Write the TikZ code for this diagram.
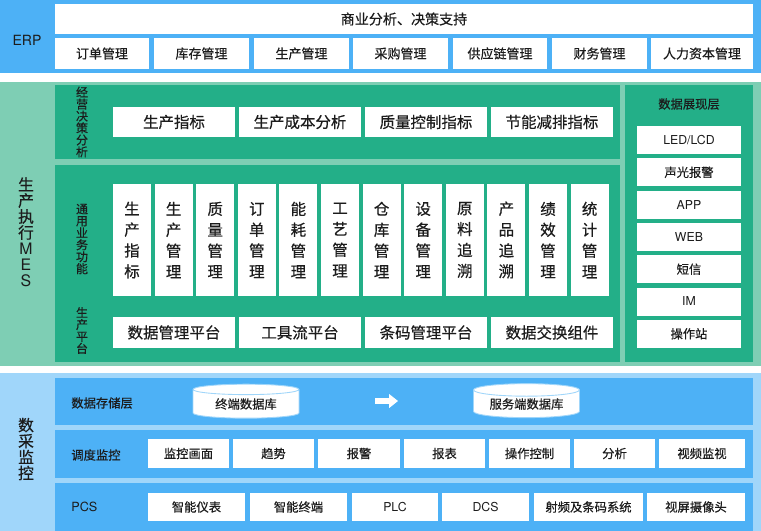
\documentclass[tikz,border=0pt]{standalone}
\usepackage{fontspec}
\setmainfont{Noto Sans CJK SC}[FakeBold=0.5]
\newfontfamily\heros{TeX Gyre Heros}
\usetikzlibrary{shapes.geometric, arrows.meta, positioning}
\definecolor{erpblue}{RGB}{77,177,246}
\definecolor{mesband}{RGB}{126,206,180}
\definecolor{mesgreen}{RGB}{35,175,136}
\definecolor{dcsband}{RGB}{160,214,250}
\definecolor{inktext}{RGB}{28,28,28}
\newcommand\pxu{0.02cm}

\tikzset{
  cell/.style={fill=white, inner sep=0pt, outer sep=0pt, text=inktext},
  erpcell/.style={cell, minimum height={31*\pxu}, font=\fontsize{7.4pt}{8pt}\selectfont},
  kpicell/.style={cell, minimum width={122*\pxu}, minimum height={30*\pxu}, font=\fontsize{8.8pt}{9pt}\selectfont},
  funccell/.style={cell, minimum width={38*\pxu}, minimum height={112*\pxu}, align=center, font=\fontsize{8.8pt}{11.9pt}\selectfont},
  showcell/.style={cell, minimum width={104*\pxu}, minimum height={28*\pxu}, font=\fontsize{7pt}{8pt}\selectfont},
  dcscell/.style={cell, font=\fontsize{7pt}{8pt}\selectfont},
  sidelabel/.style={text=inktext, inner sep=0pt, align=center, font=\fontsize{9pt}{9.1pt}\selectfont},
  vlabel/.style={text=inktext, inner sep=0pt, align=center, font=\fontsize{6.8pt}{6.8pt}\selectfont},
  rowlabel/.style={text=inktext, inner sep=0pt, anchor=west, font=\fontsize{7pt}{8pt}\selectfont},
  dbnode/.style={cylinder, shape border rotate=90, aspect=0.17, fill=white, draw=dcsband, line width=0.5pt,
    minimum width={106*\pxu}, minimum height={34*\pxu}, inner sep=0pt, text=inktext, font=\fontsize{7pt}{8pt}\selectfont}
}

\begin{document}
\begin{tikzpicture}[x=0.02cm, y=-0.02cm]
  \useasboundingbox (0,0) rectangle (761,531);
  \fill[white] (0,0) rectangle (761,531);

  % ERP layer
  \fill[erpblue] (0,0) rectangle (761,73);
  \node[sidelabel, font=\heros\fontsize{8pt}{9pt}\selectfont] (erp) at (27,40) {ERP};
  \node[cell, minimum width={698*\pxu}, minimum height={30*\pxu}, font=\fontsize{8pt}{9pt}\selectfont] (bi) at (404,19) {商业分析、决策支持};
  \foreach \cx/\w/\t [count=\i] in {102/94/订单管理, 201.5/95/库存管理, 301.5/95/生产管理, 400.5/95/采购管理,
      500/94/供应链管理, 599.5/95/财务管理, 702/102/人力资本管理}
    \node[erpcell, minimum width={\w*\pxu}] (erp\i) at (\cx,53.5) {\t};

  % MES layer
  \fill[mesband] (0,82) rectangle (761,366);
  \fill[mesgreen] (55,85) rectangle (620,159);
  \fill[mesgreen] (55,165) rectangle (620,362);
  \fill[mesgreen] (625,85) rectangle (753,362);
  \node[sidelabel] (mes) at (26,232) {生\\产\\执\\行\\{\heros M}\\{\heros E}\\{\heros S}};
  \node[vlabel] (decide) at (82,122) {经\\营\\决\\策\\分\\析};
  \node[vlabel] (common) at (82,239) {通\\用\\业\\务\\功\\能};
  \node[vlabel] (platform) at (82,330.5) {生\\产\\平\\台};
  \foreach \cx/\t [count=\i] in {174/生产指标, 300/生产成本分析, 426/质量控制指标, 552/节能减排指标}
    \node[kpicell] (kpi\i) at (\cx,122) {\t};
  \foreach \t [count=\i] in {生\\产\\指\\标, 生\\产\\管\\理, 质\\量\\管\\理, 订\\单\\管\\理, 能\\耗\\管\\理, 工\\艺\\管\\理,
      仓\\库\\管\\理, 设\\备\\管\\理, 原\\料\\追\\溯, 产\\品\\追\\溯, 绩\\效\\管\\理, 统\\计\\管\\理}
    \node[funccell] (func\i) at ({132+41.6*(\i-1)},240) {\t};
  \foreach \cx/\t [count=\i] in {174/数据管理平台, 300/工具流平台, 426/条码管理平台, 552/数据交换组件}
    \node[kpicell, minimum height={31*\pxu}] (plat\i) at (\cx,332.5) {\t};
  \node[text=inktext, font=\fontsize{7pt}{8pt}\selectfont] (show) at (689,104) {数据展现层};
  \foreach \t [count=\i] in {{\heros LED/LCD}, 声光报警, {\heros APP}, {\heros WEB}, 短信, {\heros IM}, 操作站}
    \node[showcell] (show\i) at ({689},{140+32.3*(\i-1)}) {\t};

  % data acquisition layer
  \fill[dcsband] (0,373) rectangle (761,531);
  \fill[erpblue] (55,378) rectangle (753,425);
  \fill[erpblue] (55,430) rectangle (753,478);
  \fill[erpblue] (55,483) rectangle (753,531);
  \node[sidelabel] (dcs) at (26,449) {数\\采\\监\\控};
  \node[rowlabel] (store) at (71,403) {数据存储层};
  \node[rowlabel] (dispatch) at (71,455) {调度监控};
  \node[rowlabel, font=\heros\fontsize{7.2pt}{8pt}\selectfont] (pcs) at (71,507) {PCS};
  \node[dbnode] (localdb) at (246,404) {终端数据库};
  \node[dbnode] (serverdb) at (526.5,404) {服务端数据库};
  \coordinate (sync0) at (375,401);
  \coordinate (sync1) at (398,401);
  \draw[white, line width=3.4pt, -{Triangle[length=5pt, width=7.6pt]}] (sync0) -- (sync1);
  \foreach \cx/\w/\t [count=\i] in {188.5/81/监控画面, 273.5/81/趋势, 359/82/报警, 444.5/81/报表,
      529.5/81/操作控制, 614.5/81/分析, 702/86/视频监视}
    \node[dcscell, minimum width={\w*\pxu}, minimum height={29*\pxu}] (mon\i) at (\cx,453.5) {\t};
  \foreach \cx/\w/\t [count=\i] in {196.5/97/智能仪表, 298.5/97/智能终端, 395/86/{\heros PLC}, 485.5/87/{\heros DCS},
      588.5/109/射频及条码系统, 696/98/视屏摄像头}
    \node[dcscell, minimum width={\w*\pxu}, minimum height={28*\pxu}] (dev\i) at (\cx,507) {\t};
\end{tikzpicture}
\end{document}
